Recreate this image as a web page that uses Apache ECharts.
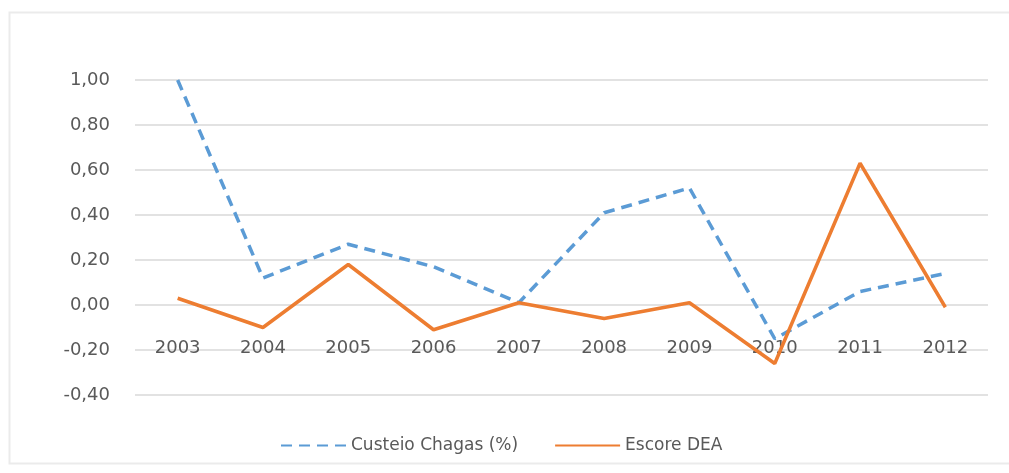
<!DOCTYPE html>
<html><head><meta charset="utf-8">
<script src="https://cdn.jsdelivr.net/npm/echarts@6/dist/echarts.min.js"></script>
<style>html,body{margin:0;padding:0;background:#fff}#c{width:1009px;height:473px}</style>
</head><body><div id="c"></div>
<script>
var categories = ['2003','2004','2005','2006','2007','2008','2009','2010','2011','2012'];
var custeioChagas = [1.00, 0.12, 0.27, 0.17, 0.01, 0.41, 0.52, -0.15, 0.06, 0.14];
var escoreDEA = [0.03, -0.10, 0.18, -0.11, 0.01, -0.06, 0.01, -0.26, 0.63, -0.01];
var seriesNames = ['Custeio Chagas (%)', 'Escore DEA'];

var chart = echarts.init(document.getElementById('c'));
var font = '"DejaVu Sans", sans-serif';
chart.setOption({
  backgroundColor: '#fff',
  animation: false,
  graphic: [{type:'rect', shape:{x:9.5,y:12.5,width:1010,height:451}, style:{fill:'none', stroke:'#ebebeb', lineWidth:2}}],
  grid: {left:135, right:21, top:80, bottom:78},
  legend: {
    top: 432, left: 275, itemGap: 36, itemWidth: 65, itemHeight: 10,
    textStyle: {color:'#595959', fontSize:17, fontFamily:font},
    itemStyle: {opacity: 0},
    data: seriesNames
  },
  xAxis: {
    type: 'category', data: categories, boundaryGap: true,
    axisLine: {show:false}, axisTick: {show:false},
    axisLabel: {color:'#595959', fontSize:18, fontFamily:font, margin:-56}
  },
  yAxis: {
    type: 'value', min: -0.4, max: 1.0, interval: 0.2,
    axisLine: {show:false}, axisTick: {show:false},
    splitLine: {lineStyle:{color:'#d9d9d9', width:1.5}},
    axisLabel: {color:'#595959', fontSize:18, fontFamily:font, margin:25,
      formatter: function(v){ return v.toFixed(2).replace('.', ','); }}
  },
  series: [
    {name: seriesNames[0], type:'line', data: custeioChagas, symbol:'none',
      lineStyle:{color:'#5b9bd5', width:3.5, type:[11,7]}, itemStyle:{color:'#5b9bd5'}},
    {name: seriesNames[1], type:'line', data: escoreDEA, symbol:'none',
      lineStyle:{color:'#ed7d31', width:3.5}, itemStyle:{color:'#ed7d31'}}
  ]
});
</script></body></html>
